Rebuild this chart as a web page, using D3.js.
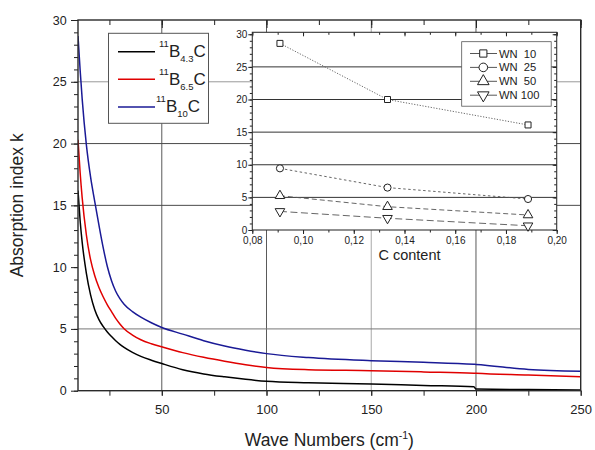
<!DOCTYPE html>
<html><head><meta charset="utf-8">
<script src="https://cdn.jsdelivr.net/npm/d3@7"></script>
<style>
body{margin:0;background:#fff}
svg{display:block;font-family:Arial,"Liberation Sans",sans-serif}
</style></head><body>
<svg id="chart" width="595" height="450"></svg>
<script>
// Absorption index k versus wave number for three boron-carbide compositions
const waveNumbers = [10, 11, 12, 14, 16, 18, 20, 22, 24, 26, 28, 30, 32, 36, 40, 45, 50, 60, 70, 80, 90, 100, 120, 150, 175, 199, 200, 225, 250];
const kB43C  = [16.2, 13.8, 12.0, 9.5, 7.75, 6.55, 5.75, 5.2, 4.75, 4.38, 4.04, 3.75, 3.5, 3.1, 2.78, 2.47, 2.2, 1.7, 1.36, 1.12, 0.92, 0.76, 0.64, 0.54, 0.42, 0.32, 0.13, 0.09, 0.06];
const kB65C  = [20.3, 17.7, 15.6, 12.6, 10.6, 9.3, 8.35, 7.6, 6.95, 6.4, 5.85, 5.4, 5.02, 4.5, 4.12, 3.8, 3.55, 3.08, 2.7, 2.38, 2.1, 1.88, 1.7, 1.62, 1.52, 1.42, 1.41, 1.27, 1.13];
const kB10C  = [28.7, 26.0, 23.6, 19.9, 17.3, 15.3, 13.4, 11.6, 10.05, 8.9, 8.05, 7.45, 7.0, 6.4, 5.95, 5.5, 5.12, 4.58, 4.05, 3.62, 3.28, 3.0, 2.68, 2.43, 2.3, 2.14, 2.13, 1.72, 1.58];

// main legend entries
const mainSeries = [
  {iso: "11", sub: "4.3", values: kB43C, color: "#000000"},
  {iso: "11", sub: "6.5", values: kB65C, color: "#e00000"},
  {iso: "11", sub: "10",  values: kB10C, color: "#1a1a96"}
];

// inset: k against carbon content at fixed wave numbers
const carbonContent = [0.0909, 0.1333, 0.1887];
const wn10  = [28.6, 20.0, 16.1];
const wn25  = [9.45, 6.5, 4.75];
const wn50  = [5.25, 3.57, 2.3];
const wn100 = [2.85, 1.8, 0.65];
const insetLabels = ["WN  10", "WN  25", "WN  50", "WN 100"];

// tick values
const mainXTicks = [50, 100, 150, 200, 250];
const mainXMinor = [25, 50, 75, 100, 125, 150, 175, 200, 225, 250];
const mainYTicks = [0, 5, 10, 15, 20, 25, 30];
const mainGridX = [50, 100, 150, 200];
const mainGridY = [5, 15, 20, 25];
const insetXTicks = [0.08, 0.10, 0.12, 0.14, 0.16, 0.18, 0.20];
const insetYTicks = [0, 5, 10, 15, 20, 25, 30];
const insetGridY = [5, 10, 15, 20, 25];

const svg = d3.select("#chart");

const x = d3.scaleLinear().domain([10, 250]).range([78, 580.7]);
const y = d3.scaleLinear().domain([0, 30]).range([390.7, 20]);

// ---- main grid (some lines rendered lighter)
const lightGrid = new Set([150, 25]);
const grid = svg.append("g").attr("stroke-width", 1);
grid.selectAll(".gx").data(mainGridX).join("line")
  .attr("stroke", d => lightGrid.has(d) ? "#a8a8a8" : "#5a5a5a")
  .attr("x1", d => x(d)).attr("x2", d => x(d)).attr("y1", y(0)).attr("y2", y(30));
grid.selectAll(".gy").data(mainGridY).join("line")
  .attr("stroke", d => lightGrid.has(d) ? "#9a9a9a" : (d === 5 ? "#777" : "#4a4a4a"))
  .attr("x1", x(10)).attr("x2", x(250)).attr("y1", d => y(d)).attr("y2", d => y(d));

// ---- curves
svg.append("clipPath").attr("id", "plotclip").append("rect")
  .attr("x", x(10)).attr("y", y(30)).attr("width", x(250) - x(10)).attr("height", y(0) - y(30));
const line = d3.line().x((d, i) => x(waveNumbers[i])).y(d => y(d)).curve(d3.curveMonotoneX);
svg.append("g").attr("clip-path", "url(#plotclip)")
  .selectAll("path").data(mainSeries).join("path")
  .attr("d", d => line(d.values)).attr("fill", "none")
  .attr("stroke", d => d.color).attr("stroke-width", 1.5);

// ---- main axes
function styleAxis(g) {
  g.select(".domain").remove();
  g.selectAll(".tick line").attr("stroke", "#222").attr("stroke-width", 1);
  g.selectAll(".tick text").attr("fill", "#222").attr("font-family", "Arial, 'Liberation Sans', sans-serif");
}
svg.append("g").attr("transform", `translate(${x(10)},0)`)
  .call(d3.axisLeft(y).tickValues(d3.range(0, 31, 1)).tickSize(4).tickFormat(""))
  .call(styleAxis);
svg.append("g").attr("transform", `translate(${x(10)},0)`)
  .call(d3.axisLeft(y).tickValues(mainYTicks).tickSize(7).tickPadding(4.3).tickFormat(d3.format("d")))
  .call(styleAxis)
  .selectAll("text").attr("font-size", 12.5);
svg.append("g").attr("transform", `translate(0,${y(0)})`)
  .call(d3.axisBottom(x).tickValues(mainXMinor).tickSize(5).tickFormat(""))
  .call(styleAxis);
svg.append("g").attr("transform", `translate(0,${y(0)})`)
  .call(d3.axisBottom(x).tickValues(mainXTicks).tickSize(5).tickPadding(9.3).tickFormat(d3.format("d")))
  .call(styleAxis)
  .selectAll("text").attr("font-size", 13);
svg.append("g").attr("transform", `translate(0,${y(30)})`)
  .call(d3.axisTop(x).tickValues(mainXMinor).tickSize(-5).tickFormat(""))
  .call(styleAxis);
svg.append("g").attr("transform", `translate(0,${y(30)})`)
  .call(d3.axisTop(x).tickValues(mainXTicks).tickSize(-8).tickFormat(""))
  .call(styleAxis);
svg.append("rect")
  .attr("x", x(10)).attr("y", y(30)).attr("width", x(250) - x(10)).attr("height", y(0) - y(30))
  .attr("fill", "none").attr("stroke", "#2a2a2a").attr("stroke-width", 1.4);

// axis titles
const xt = svg.append("text").attr("x", (x(10) + x(250)) / 2).attr("y", 446)
  .attr("text-anchor", "middle").attr("font-size", 17.5).attr("fill", "#222");
xt.append("tspan").text("Wave Numbers (cm");
xt.append("tspan").attr("font-size", 10.5).attr("dy", -7).text("-1");
xt.append("tspan").attr("dy", 7).text(")");
svg.append("text").attr("transform", `translate(23,${(y(0) + y(30)) / 2}) rotate(-90)`)
  .attr("text-anchor", "middle").attr("font-size", 17.5).attr("fill", "#222")
  .text("Absorption index k");

// ---- main legend
const leg = svg.append("g");
leg.append("rect").attr("x", 108.5).attr("y", 33.3).attr("width", 100).attr("height", 90)
  .attr("fill", "#fff").attr("stroke", "#555").attr("stroke-width", 1);
mainSeries.forEach((s, i) => {
  const cy = 51.7 + i * 27.6;
  leg.append("line").attr("x1", 118).attr("x2", 155).attr("y1", cy).attr("y2", cy)
    .attr("stroke", s.color).attr("stroke-width", 1.5);
  const t = leg.append("text").attr("x", i === 2 ? 156 : 159).attr("y", cy + 5.5).attr("fill", "#222")
    .attr("font-size", 17);
  t.append("tspan").attr("font-size", 9.5).attr("dy", -10).text(s.iso);
  t.append("tspan").attr("dy", 10).text("B");
  t.append("tspan").attr("font-size", 9.5).attr("dy", 5).text(s.sub);
  t.append("tspan").attr("dy", -5).text("C");
});

// ---- inset
const ix = d3.scaleLinear().domain([0.08, 0.20]).range([252.3, 556.7]);
const iy = d3.scaleLinear().domain([0, 30.3]).range([230, 32.3]);
const inset = svg.append("g");
inset.append("rect").attr("x", ix(0.08)).attr("y", iy(30.3))
  .attr("width", ix(0.20) - ix(0.08)).attr("height", iy(0) - iy(30.3)).attr("fill", "#fff");
inset.append("g").attr("stroke", "#333").attr("stroke-width", 1)
  .selectAll("line").data(insetGridY).join("line")
  .attr("x1", ix(0.08)).attr("x2", ix(0.20)).attr("y1", d => iy(d)).attr("y2", d => iy(d));

const commaFmt = d3.formatLocale({decimal: ",", thousands: ".", grouping: [3], currency: ["", ""]}).format(".2f");

inset.append("g").attr("transform", `translate(${ix(0.08)},0)`)
  .call(d3.axisLeft(iy).tickValues(d3.range(0, 31, 1)).tickSize(2.5).tickFormat(""))
  .call(styleAxis);
inset.append("g").attr("transform", `translate(${ix(0.08)},0)`)
  .call(d3.axisLeft(iy).tickValues(insetYTicks).tickSize(4).tickPadding(1).tickFormat(d3.format("d")))
  .call(styleAxis).selectAll("text").attr("font-size", 10);
inset.append("g").attr("transform", `translate(${ix(0.20)},0)`)
  .call(d3.axisRight(iy).tickValues(d3.range(0, 31, 1)).tickSize(-2.5).tickFormat(""))
  .call(styleAxis);
inset.append("g").attr("transform", `translate(${ix(0.20)},0)`)
  .call(d3.axisRight(iy).tickValues(insetYTicks).tickSize(-4).tickFormat(""))
  .call(styleAxis);
inset.append("g").attr("transform", `translate(0,${iy(0)})`)
  .call(d3.axisBottom(ix).tickValues(d3.range(8, 21, 1).map(v => v / 100)).tickSize(2.5).tickFormat(""))
  .call(styleAxis);
inset.append("g").attr("transform", `translate(0,${iy(0)})`)
  .call(d3.axisBottom(ix).tickValues(insetXTicks).tickSize(4).tickPadding(2.5).tickFormat(commaFmt))
  .call(styleAxis).selectAll("text").attr("font-size", 10);
inset.append("g").attr("transform", `translate(0,${iy(30.3)})`)
  .call(d3.axisTop(ix).tickValues(d3.range(8, 21, 1).map(v => v / 100)).tickSize(-2.5).tickFormat(""))
  .call(styleAxis);
inset.append("g").attr("transform", `translate(0,${iy(30.3)})`)
  .call(d3.axisTop(ix).tickValues(insetXTicks).tickSize(-4).tickFormat(""))
  .call(styleAxis);
inset.append("rect").attr("x", ix(0.08)).attr("y", iy(30.3))
  .attr("width", ix(0.20) - ix(0.08)).attr("height", iy(0) - iy(30.3))
  .attr("fill", "none").attr("stroke", "#333").attr("stroke-width", 1.1);
inset.append("text").attr("x", (ix(0.08) + ix(0.20)) / 2 + 5).attr("y", 260)
  .attr("text-anchor", "middle").attr("font-size", 14.5).attr("fill", "#222").text("C content");

const insetSeries = [
  {values: wn10,  symbol: d3.symbolSquare,   size: 36, rot: 0,   dash: "1.2,1.6"},
  {values: wn25,  symbol: d3.symbolCircle,   size: 40, rot: 0,   dash: "2.5,2.5"},
  {values: wn50,  symbol: d3.symbolTriangle, size: 40, rot: 0,   dash: "5,3"},
  {values: wn100, symbol: d3.symbolTriangle, size: 40, rot: 180, dash: "7,3.5"}
];
const iline = d3.line().x((d, i) => ix(carbonContent[i])).y(d => iy(d));
insetSeries.forEach(s => {
  inset.append("path").attr("d", iline(s.values)).attr("fill", "none")
    .attr("stroke", "#555").attr("stroke-width", 0.9).attr("stroke-dasharray", s.dash);
  inset.selectAll(null).data(s.values).join("path")
    .attr("transform", (d, i) => `translate(${ix(carbonContent[i])},${iy(d)}) rotate(${s.rot})`)
    .attr("d", d3.symbol(s.symbol, s.size)())
    .attr("fill", "#fff").attr("stroke", "#222").attr("stroke-width", 1);
});

// inset legend
const il = inset.append("g");
il.append("rect").attr("x", 461.7).attr("y", 41.7).attr("width", 89.5).attr("height", 64.5)
  .attr("fill", "#fff").attr("stroke", "#555").attr("stroke-width", 0.8);
insetSeries.forEach((s, i) => {
  const cy = 53.5 + i * 13.9;
  il.append("line").attr("x1", 470).attr("x2", 497).attr("y1", cy).attr("y2", cy)
    .attr("stroke", "#444").attr("stroke-width", 0.9);
  il.append("path").attr("transform", `translate(483.3,${cy}) rotate(${s.rot})`)
    .attr("d", d3.symbol(s.symbol, s.size * 1.45)())
    .attr("fill", "#fff").attr("stroke", "#222").attr("stroke-width", 1);
  il.append("text").attr("x", 499).attr("y", cy + 4).attr("font-size", 11.2).attr("fill", "#222")
    .attr("xml:space", "preserve").style("white-space", "pre").text(insetLabels[i]);
});
</script>
</body></html>
